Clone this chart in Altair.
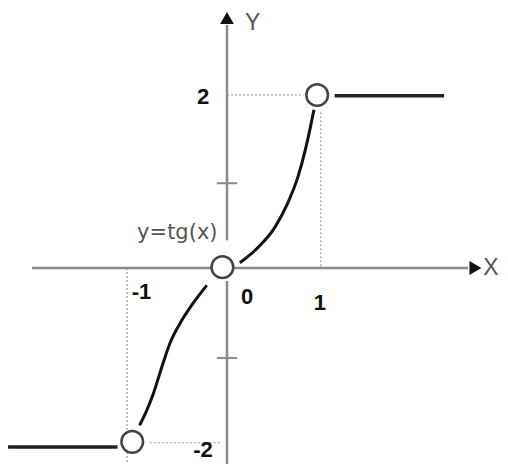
import altair as alt
import pandas as pd

# ---- data ----
# curve y = tg(x) pieces
right_x = [0.14, 0.34, 0.52, 0.66, 0.77, 0.85, 0.905, 0.945]
right_y = [0.06, 0.24, 0.47, 0.75, 1.05, 1.36, 1.62, 1.83]
left_x = [-0.95, -0.87, -0.80, -0.71, -0.62, -0.51, -0.37, -0.22]
left_y = [-1.82, -1.64, -1.45, -1.15, -0.87, -0.64, -0.41, -0.20]

# constant pieces
flat_x1 = [1.17, -2.38]
flat_x2 = [2.36, -1.19]
flat_y = [1.99, -2.07]

# open circles
hole_x = [-0.05, 0.98, -1.03]
hole_y = [0.01, 2.00, -2.01]

# axes segments
axis_x1 = [-2.12, 0.0, 0.0]
axis_x2 = [2.62, 0.0, 0.0]
axis_y1 = [0.0, 2.81, -0.15]
axis_y2 = [0.0, 0.32, -2.40]

# ticks on y axis
tick_y = [0.98, -1.04]
tick_half = 0.11

# dotted guides
dot_x1 = [0.0, 1.02, -1.087, -0.84]
dot_x2 = [0.83, 1.02, -1.087, -0.08]
dot_y1 = [2.0, 1.80, 0.0, -2.02]
dot_y2 = [2.0, 0.0, -2.35, -2.02]

# bold numeric labels
num_text = ["2", "-1", "0", "1", "-2"]
num_x = [-0.26, -0.93, 0.22, 1.01, -0.26]
num_y = [1.98, -0.28, -0.34, -0.40, -2.10]

# axis names and function label
name_text = ["X", "Y"]
name_x = [2.87, 0.28]
name_y = [0.0, 2.83]
func_text = ["y=tg(x)"]
func_x = [-0.54]
func_y = [0.40]

# ---- scales ----
xs = alt.Scale(domain=[-2.3804, 2.9674], nice=False, zero=False)
ys = alt.Scale(domain=[-2.2659, 3.0058], nice=False, zero=False)
X = lambda f: alt.X(f, type="quantitative", scale=xs, axis=None)
Y = lambda f: alt.Y(f, type="quantitative", scale=ys, axis=None)

dots = pd.DataFrame({"x": dot_x1, "x2": dot_x2, "y": dot_y1, "y2": dot_y2})
dotted = alt.Chart(dots).mark_rule(color="#9a9a9a", strokeWidth=1.2, strokeDash=[2, 2]).encode(
    x=X("x"), x2="x2", y=Y("y"), y2="y2")

axes_df = pd.DataFrame({"x": axis_x1, "x2": axis_x2, "y": axis_y1, "y2": axis_y2})
axes = alt.Chart(axes_df).mark_rule(color="#8a8a8a", strokeWidth=2.5).encode(
    x=X("x"), x2="x2", y=Y("y"), y2="y2")

ticks_df = pd.DataFrame({"x": [-tick_half] * 2, "x2": [tick_half] * 2, "y": tick_y})
ticks = alt.Chart(ticks_df).mark_rule(color="#8a8a8a", strokeWidth=2).encode(
    x=X("x"), x2="x2", y=Y("y"))

arrows_df = pd.DataFrame({"x": [0.0, 2.70], "y": [2.89, 0.0], "s": ["triangle-up", "triangle-right"]})
arrows = alt.Chart(arrows_df).mark_point(filled=True, color="#111", size=190, opacity=1).encode(
    x=X("x"), y=Y("y"), shape=alt.Shape("s:N", scale=None, legend=None))

curve_df = pd.DataFrame({
    "x": right_x + left_x,
    "y": right_y + left_y,
    "piece": ["r"] * len(right_x) + ["l"] * len(left_x),
    "o": list(range(len(right_x))) + list(range(len(left_x))),
})
curve = alt.Chart(curve_df).mark_line(color="#111", strokeWidth=3, interpolate="monotone").encode(
    x=X("x"), y=Y("y"), detail="piece:N", order="o:Q")

flat_df = pd.DataFrame({"x": flat_x1, "x2": flat_x2, "y": flat_y})
flat = alt.Chart(flat_df).mark_rule(color="#222", strokeWidth=3.5).encode(
    x=X("x"), x2="x2", y=Y("y"))

holes_df = pd.DataFrame({"x": hole_x, "y": hole_y})
holes = alt.Chart(holes_df).mark_point(shape="circle", filled=False, fill="white", fillOpacity=1,
                                       color="#444", strokeWidth=2.5, size=470, opacity=1).encode(
    x=X("x"), y=Y("y"))

nums_df = pd.DataFrame({"t": num_text, "x": num_x, "y": num_y})
nums = alt.Chart(nums_df).mark_text(font="Liberation Sans", fontSize=22, fontWeight="bold",
                                    color="#111", align="center", baseline="middle").encode(
    x=X("x"), y=Y("y"), text="t:N")

names_df = pd.DataFrame({"t": name_text, "x": name_x, "y": name_y})
names = alt.Chart(names_df).mark_text(font="Liberation Sans", fontSize=23, color="#555",
                                      align="center", baseline="middle").encode(
    x=X("x"), y=Y("y"), text="t:N")

func_df = pd.DataFrame({"t": func_text, "x": func_x, "y": func_y})
func = alt.Chart(func_df).mark_text(font="DejaVu Sans", fontSize=21, color="#555",
                                    align="center", baseline="middle").encode(
    x=X("x"), y=Y("y"), text="t:N")

chart = alt.layer(dotted, axes, ticks, arrows, curve, flat, holes, nums, names, func).properties(
    width=492, height=456, padding=0, autosize=alt.AutoSizeParams(type="none")
).configure_view(stroke=None)

chart.save("out.html", embed_options={"renderer": "svg", "actions": False})
